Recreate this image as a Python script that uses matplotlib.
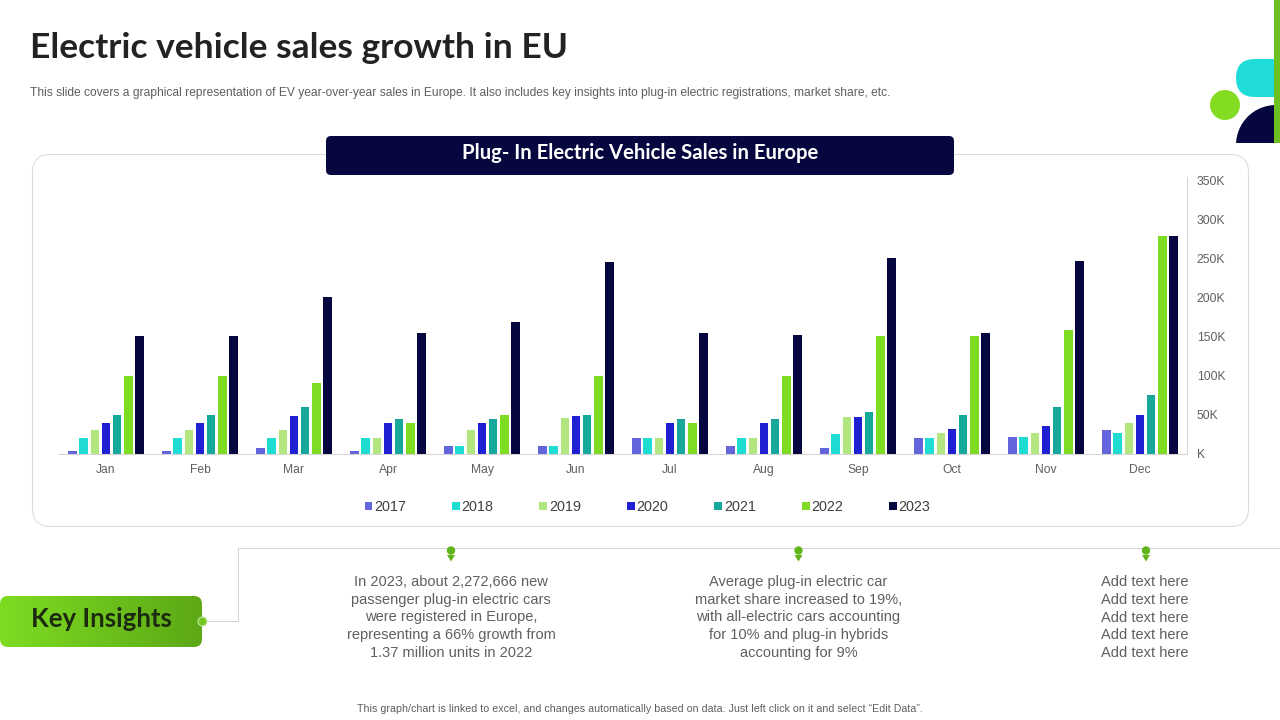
import numpy as np
import matplotlib
matplotlib.use('Agg')
import matplotlib.pyplot as plt
from matplotlib.patches import FancyBboxPatch, Circle, Polygon, Rectangle

months = ['Jan', 'Feb', 'Mar', 'Apr', 'May', 'Jun', 'Jul', 'Aug', 'Sep', 'Oct', 'Nov', 'Dec']
years = ['2017', '2018', '2019', '2020', '2021', '2022', '2023']
sales_2017 = [4, 4, 8, 4, 10, 10, 20, 10, 8, 20, 22, 31]
sales_2018 = [20, 20, 20, 20, 10, 10, 20, 20, 25, 20, 22, 27]
sales_2019 = [30, 30, 30, 20, 30, 46, 20, 20, 47, 27, 27, 40]
sales_2020 = [40, 40, 48, 40, 40, 48, 40, 40, 47, 32, 36, 49]
sales_2021 = [49, 49, 60, 45, 45, 49, 45, 45, 53, 49, 60, 75]
sales_2022 = [100, 100, 90, 40, 49, 100, 40, 100, 151, 150, 158, 279]
sales_2023 = [150, 150, 200, 154, 169, 245, 154, 152, 250, 155, 247, 279]
y_ticks = [0, 50, 100, 150, 200, 250, 300, 350]
y_labels = ['K', '50K', '100K', '150K', '200K', '250K', '300K', '350K']
series = [sales_2017, sales_2018, sales_2019, sales_2020, sales_2021, sales_2022, sales_2023]
colors = ['#6464dc', '#1fdcd2', '#b2e67f', '#1e20d2', '#17a89c', '#7edc22', '#07073f']

NAVY = '#07073f'
GREY = '#5f5f5f'
SANS = 'Liberation Sans'

fig = plt.figure(figsize=(12.8, 7.2), dpi=100, facecolor='white')

# whole-slide layer in pixel coordinates
bg = fig.add_axes([0, 0, 1, 1])
bg.set_xlim(0, 1280)
bg.set_ylim(720, 0)
bg.axis('off')

bg.text(30, 48.5, 'Electric vehicle sales growth in EU', fontsize=25.5, fontweight='bold',
        family='Lato', color='#222222', va='center', ha='left')
bg.text(30, 93, 'This slide covers a graphical representation of EV year-over-year sales in Europe. '
        'It also includes key insights into plug-in electric registrations, market share, etc.',
        fontsize=8.66, family=SANS, color=GREY, va='center', ha='left')

# corner decoration
bg.add_patch(FancyBboxPatch((1236, 59), 60, 38, boxstyle='round,pad=0,rounding_size=19',
                            fc='#1fdcd8', ec='none'))
bg.add_patch(Circle((1225, 105), 15, fc='#84dc22', ec='none'))
clip = Rectangle((1200, 100), 80, 43, transform=bg.transData)
dark = Circle((1276, 145), 40, fc=NAVY, ec='none')
bg.add_patch(dark)
dark.set_clip_path(clip)
bg.add_patch(Rectangle((1274, 0), 6, 143, fc='#6cc020', ec='none'))

# chart card and header
bg.add_patch(FancyBboxPatch((32.5, 154.5), 1216, 372, boxstyle='round,pad=0,rounding_size=18',
                            fc='white', ec='#dcdcdc', lw=0.75))
bg.add_patch(FancyBboxPatch((326, 136), 628, 39, boxstyle='round,pad=0,rounding_size=5',
                            fc=NAVY, ec='none', zorder=3))
bg.text(640, 153, 'Plug- In Electric Vehicle Sales in Europe', fontsize=14.6, fontweight='bold',
        family='Lato', color='white', va='center', ha='center', zorder=4)

# key insights box
box = FancyBboxPatch((0, 596), 202, 51, boxstyle='round,pad=0,rounding_size=8',
                     fc='none', ec='none')
bg.add_patch(box)
grad = np.linspace(0, 1, 256).reshape(1, -1)
cmap = matplotlib.colors.LinearSegmentedColormap.from_list('g', ['#7edc22', '#5ca816'])
im = bg.imshow(grad, extent=(0, 202, 647, 596), cmap=cmap, aspect='auto', zorder=2)
im.set_clip_path(box)
bg.set_xlim(0, 1280)
bg.set_ylim(720, 0)
bg.text(101, 619, 'Key Insights', fontsize=18.5, fontweight='bold', family='Lato',
        color='#1c2a10', va='center', ha='center', zorder=3)

# connector
bg.plot([207, 238, 238, 1280], [621, 621, 548, 548], color='#d4d4d4', lw=0.75, zorder=1)
bg.add_patch(Circle((202.5, 621.5), 4.5, fc='#74c822', ec='#c9e8a8', lw=0.8, zorder=4))
for px in [451, 798.5, 1146]:
    bg.add_patch(Circle((px, 550.5), 4.2, fc='#62b41c', ec='none', zorder=4))
    bg.add_patch(Polygon([(px - 4, 555), (px + 4, 555), (px, 561.5)], fc='#62b41c', ec='none', zorder=4))

notes = [
    (451, ['In 2023, about 2,272,666 new', 'passenger plug-in electric cars', 'were registered in Europe,',
           'representing a 66% growth from', '1.37 million units in 2022']),
    (798.5, ['Average plug-in electric car', 'market share increased to 19%,',
             'with all-electric cars accounting', 'for 10% and plug-in hybrids', 'accounting for 9%']),
    (1144.5, ['Add text here'] * 5),
]
for cx, lines in notes:
    for i, line in enumerate(lines):
        bg.text(cx, 582 + i * 17.75, line, fontsize=10.5, family=SANS, color=GREY,
                va='center', ha='center')

bg.text(639.5, 709.5, 'This graph/chart is linked to excel, and changes automatically based on data. '
        'Just left click on it and select \u201cEdit Data\u201d.',
        fontsize=7.64, family=SANS, color=GREY, va='center', ha='center')

# bar chart
ax = fig.add_axes([59 / 1280, 1 - 453.8 / 720, 1128 / 1280, 277 / 720])
ax.patch.set_alpha(0)
step = 11.17 / 94
width = 8.6 / 94
x = np.arange(len(months))
handles = []
for i, (vals, col) in enumerate(zip(series, colors)):
    handles.append(ax.bar(x + (i - 3) * step, vals, width=width, color=col, label=years[i]))

ax.set_xlim(-0.5, 11.5)
ax.set_ylim(0, 354.2)
ax.set_xticks(x)
ax.set_xticklabels(months, fontsize=8.7, family=SANS, color=GREY)
ax.yaxis.tick_right()
ax.set_yticks(y_ticks)
ax.set_yticklabels(y_labels, fontsize=8.7, family=SANS, color=GREY)
ax.tick_params(axis='both', length=0)
ax.tick_params(axis='x', pad=7)
ax.tick_params(axis='y', pad=7)
for name in ['top', 'left']:
    ax.spines[name].set_visible(False)
ax.spines['bottom'].set_color('#d4d4d4')
ax.spines['right'].set_color('#d4d4d4')
ax.spines['bottom'].set_linewidth(0.75)
ax.spines['right'].set_linewidth(0.75)

fig.legend(handles=handles, loc='center', bbox_to_anchor=(647.5 / 1280, 1 - 507 / 720), ncol=7, frameon=False,
           handlelength=0.55, handleheight=0.55, handletextpad=0.12, columnspacing=3.17,
           prop={'family': SANS, 'size': 10.4}, labelcolor='#404040')

fig.savefig('out.png', dpi=100)
